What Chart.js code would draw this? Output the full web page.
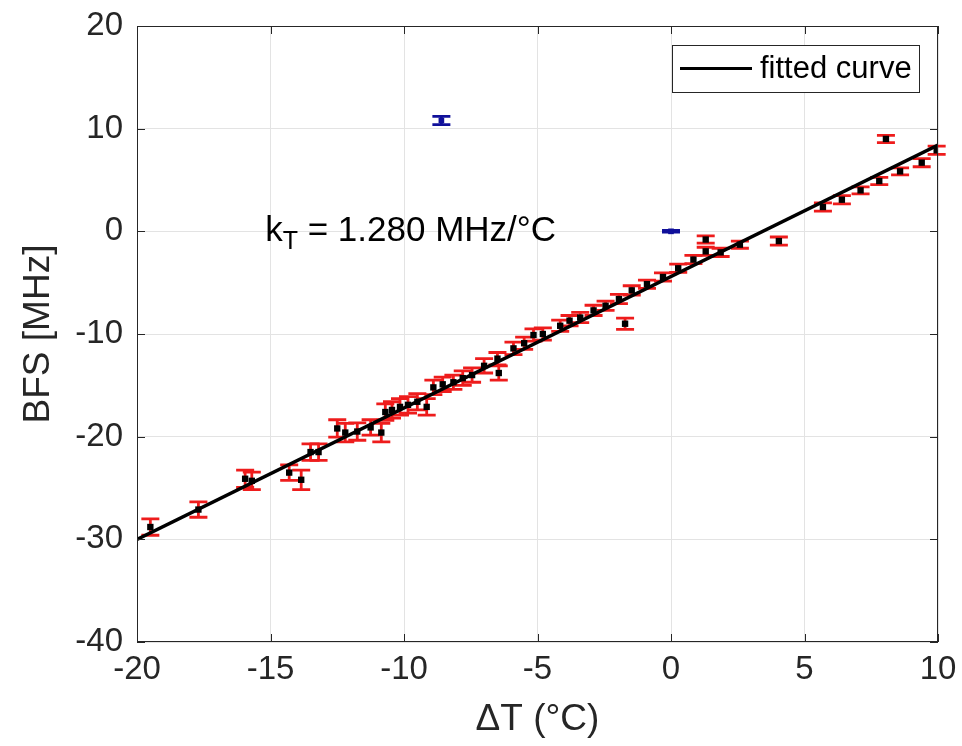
<!DOCTYPE html>
<html>
<head>
<meta charset="utf-8">
<script src="https://cdn.jsdelivr.net/npm/chart.js@4.4.1/dist/chart.umd.min.js"></script>
<style>
  html, body { margin: 0; padding: 0; background: #fff; }
  #wrap { width: 962px; height: 746px; }
</style>
</head>
<body>
<div id="wrap"><canvas id="bfsChart" width="962" height="746"></canvas></div>
<script>
// measured BFS vs temperature difference (red error bars, black markers)
const measDT = [-19.5, -17.7, -15.95, -15.7, -14.3, -13.85, -13.5, -13.2, -12.5, -12.2,
  -11.75, -11.25, -10.85, -10.7, -10.45, -10.15, -9.85, -9.5, -9.15, -8.9,
  -8.55, -8.15, -7.8, -7.45, -7.0, -6.45, -6.5, -5.9, -5.5, -5.15,
  -4.8, -4.15, -3.8, -3.4, -2.9, -2.45, -1.95, -1.72, -1.47, -0.9,
  -0.3, 0.27, 0.84, 1.3, 1.3, 1.86, 2.58, 4.04, 5.69, 6.4,
  7.1, 7.8, 8.05, 8.58, 9.39, 9.95];
const measBFS = [-28.8, -27.1, -24.1, -24.3, -23.5, -24.2, -21.5, -21.5, -19.2, -19.6,
  -19.5, -19.1, -19.6, -17.6, -17.4, -17.1, -16.9, -16.6, -17.1, -15.2,
  -14.9, -14.7, -14.3, -14.0, -13.1, -13.8, -12.4, -11.4, -10.9, -10.1,
  -10.0, -9.2, -8.7, -8.4, -7.7, -7.25, -6.6, -9.0, -5.75, -5.15,
  -4.45, -3.6, -2.75, -0.8, -1.95, -2.05, -1.3, -0.95, 2.37, 3.08,
  3.99, 4.9, 9.0, 5.84, 6.69, 7.89];
const measErr = [0.8, 0.75, 0.85, 0.85, 0.75, 0.95, 0.8, 0.8, 0.85, 0.9,
  0.85, 0.75, 0.9, 0.8, 0.8, 0.8, 0.8, 0.8, 0.8, 0.7,
  0.7, 0.7, 0.7, 0.7, 0.7, 0.7, 0.6, 0.6, 0.6, 0.6,
  0.6, 0.55, 0.5, 0.5, 0.5, 0.45, 0.45, 0.55, 0.45, 0.4,
  0.4, 0.4, 0.4, 0.35, 0.4, 0.4, 0.35, 0.4, 0.4, 0.4,
  0.35, 0.35, 0.35, 0.35, 0.4, 0.4];

// excluded points (blue)
const excludedDT = [-8.6, 0];
const excludedBFS = [10.8, 0];
const excludedErr = [0.4, 0.08];

// linear fit, kT = 1.280 MHz/°C
const fitDT = [-20, 10];
const fitBFS = [-30, 8.4];

const xTickValues = [-20, -15, -10, -5, 0, 5, 10];
const yTickValues = [-40, -30, -20, -10, 0, 10, 20];

const annotDT = -15.2;
const annotBFS = 0;

const FONT = "'Liberation Sans', Arial, Helvetica, sans-serif";
const INK = "#262626";

function toPoints(xs, ys) {
  return xs.map((x, i) => ({ x: x, y: ys[i] }));
}

const errorBars = {
  id: "errorBars",
  beforeDatasetsDraw(chart) {
    const { ctx, scales: { x, y } } = chart;
    const groups = [
      { xs: measDT, ys: measBFS, es: measErr, color: "#ee1c1c" },
      { xs: excludedDT, ys: excludedBFS, es: excludedErr, color: "#10109a" }
    ];
    ctx.save();
    ctx.lineWidth = 2.8;
    groups.forEach(g => {
      ctx.strokeStyle = g.color;
      g.xs.forEach((v, i) => {
        const px = x.getPixelForValue(v);
        const top = y.getPixelForValue(g.ys[i] + g.es[i]);
        const bot = y.getPixelForValue(g.ys[i] - g.es[i]);
        ctx.beginPath();
        ctx.moveTo(px, top);
        ctx.lineTo(px, bot);
        ctx.moveTo(px - 9, top);
        ctx.lineTo(px + 9, top);
        ctx.moveTo(px - 9, bot);
        ctx.lineTo(px + 9, bot);
        ctx.stroke();
      });
    });
    ctx.restore();
  }
};

const frame = {
  id: "frame",
  afterDraw(chart) {
    const { ctx, chartArea: a, scales: { x, y } } = chart;
    ctx.save();
    ctx.strokeStyle = INK;
    ctx.lineWidth = 1;
    ctx.strokeRect(a.left + 0.5, a.top + 0.5, a.right - a.left - 1, a.bottom - a.top - 1);
    ctx.beginPath();
    x.ticks.forEach(t => {
      const px = Math.round(x.getPixelForValue(t.value)) + 0.5;
      ctx.moveTo(px, a.bottom);
      ctx.lineTo(px, a.bottom - 8);
      ctx.moveTo(px, a.top);
      ctx.lineTo(px, a.top + 8);
    });
    y.ticks.forEach(t => {
      const py = Math.round(y.getPixelForValue(t.value)) + 0.5;
      ctx.moveTo(a.left, py);
      ctx.lineTo(a.left + 8, py);
      ctx.moveTo(a.right, py);
      ctx.lineTo(a.right - 8, py);
    });
    ctx.stroke();

    // annotation
    ctx.fillStyle = "#000";
    ctx.textBaseline = "middle";
    ctx.textAlign = "left";
    let ax = x.getPixelForValue(annotDT);
    const ay = y.getPixelForValue(annotBFS);
    ctx.font = "35px " + FONT;
    ctx.fillText("k", ax, ay);
    ax += ctx.measureText("k").width;
    ctx.font = "25px " + FONT;
    ctx.fillText("T", ax, ay + 11);
    ax += ctx.measureText("T").width;
    ctx.font = "35px " + FONT;
    ctx.fillText(" = 1.280 MHz/°C", ax, ay);

    // legend
    const bw = 247, bh = 47;
    const bx = a.right - 19 - bw;
    const by = a.top + 19;
    ctx.fillStyle = "#fff";
    ctx.fillRect(bx, by, bw, bh);
    ctx.strokeStyle = INK;
    ctx.strokeRect(bx + 0.5, by + 0.5, bw, bh);
    ctx.strokeStyle = "#000";
    ctx.lineWidth = 3;
    ctx.beginPath();
    ctx.moveTo(bx + 8, by + bh / 2);
    ctx.lineTo(bx + 80, by + bh / 2);
    ctx.stroke();
    ctx.fillStyle = "#000";
    ctx.font = "31px " + FONT;
    ctx.fillText("fitted curve", bx + 88, by + bh / 2 + 1);
    ctx.restore();
  }
};

new Chart(document.getElementById("bfsChart"), {
  type: "scatter",
  data: {
    datasets: [
      {
        label: "fitted curve",
        type: "line",
        data: toPoints(fitDT, fitBFS),
        borderColor: "#000",
        borderWidth: 3.5,
        pointRadius: 0,
        order: 0
      },
      {
        label: "measured",
        data: toPoints(measDT, measBFS),
        pointStyle: "rect",
        pointRadius: 4.5,
        backgroundColor: "#000",
        borderColor: "#000",
        borderWidth: 0,
        order: 1
      },
      {
        label: "excluded",
        data: toPoints(excludedDT, excludedBFS),
        pointStyle: "rect",
        pointRadius: 4,
        backgroundColor: "#10109a",
        borderColor: "#10109a",
        borderWidth: 0,
        order: 1
      }
    ]
  },
  options: {
    responsive: false,
    animation: false,
    devicePixelRatio: 1,
    layout: { padding: { top: 26, right: 24, left: 0, bottom: 0 } },
    plugins: {
      legend: { display: false },
      tooltip: { enabled: false }
    },
    scales: {
      x: {
        type: "linear",
        min: -20,
        max: 10,
        afterBuildTicks: s => { s.ticks = xTickValues.map(v => ({ value: v })); },
        afterFit: s => { s.height = 104; s.paddingLeft = 0; s.paddingRight = 0; },
        grid: { color: "#e3e3e3", drawTicks: false },
        border: { display: false },
        ticks: { color: INK, padding: 8, font: { family: FONT, size: 33 } },
        title: {
          display: true,
          text: "ΔT (°C)",
          color: INK,
          font: { family: FONT, size: 37, lineHeight: 1 },
          padding: { top: 0, bottom: 8 }
        }
      },
      y: {
        type: "linear",
        min: -40,
        max: 20,
        afterBuildTicks: s => { s.ticks = yTickValues.map(v => ({ value: v })); },
        afterFit: s => { s.width = 137; s.paddingTop = 0; s.paddingBottom = 0; },
        grid: { color: "#e3e3e3", drawTicks: false },
        border: { display: false },
        ticks: { color: INK, padding: 14, font: { family: FONT, size: 33 } },
        title: {
          display: true,
          text: "BFS [MHz]",
          color: INK,
          font: { family: FONT, size: 37, lineHeight: 1 },
          padding: { top: 20, bottom: 0 }
        }
      }
    }
  },
  plugins: [errorBars, frame]
});
</script>
</body>
</html>
